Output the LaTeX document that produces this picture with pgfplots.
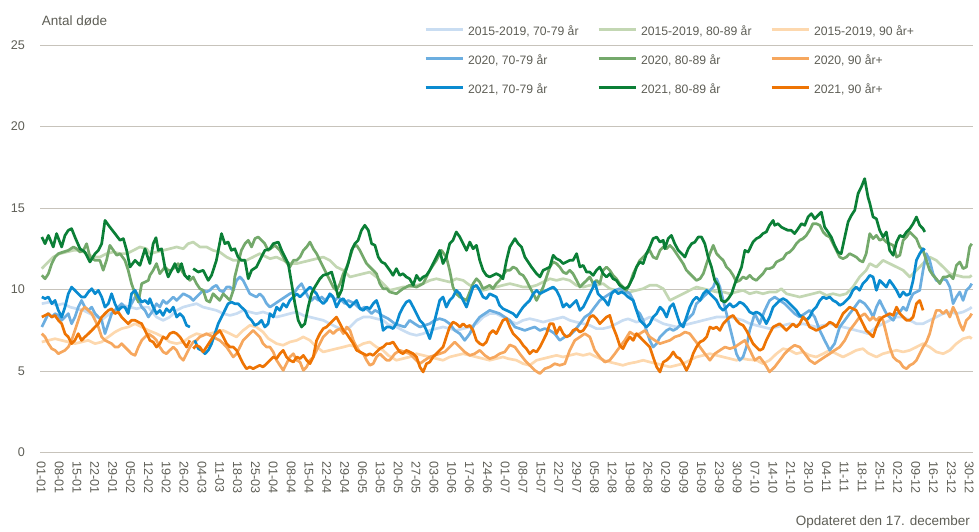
\documentclass[border=0pt]{standalone}
\usepackage{pgfplots}
\pgfplotsset{compat=1.18}
\usepackage{fontspec}
\setmainfont{Liberation Sans}
\definecolor{clb}{HTML}{C9DDF2}
\definecolor{clg}{HTML}{C3D7B3}
\definecolor{clo}{HTML}{FDD8AE}
\definecolor{cmb}{HTML}{6CAEE0}
\definecolor{cmg}{HTML}{74A96B}
\definecolor{cmo}{HTML}{F6A75E}
\definecolor{cdb}{HTML}{0A8BD0}
\definecolor{cdg}{HTML}{0B7F36}
\definecolor{cdo}{HTML}{EE7404}
\definecolor{gridc}{HTML}{C7C3BB}
\definecolor{labc}{HTML}{5E5E56}
\begin{document}
\begin{tikzpicture}[x=1pt,y=1pt]
\path[use as bounding box] (0,0) rectangle (979,531);
\begin{axis}[
  at={(40pt,78.5pt)}, anchor=south west,
  scale only axis, width=933pt, height=407.5pt,
  xmin=-0.5, xmax=365.5, ymin=0, ymax=25,
  ytick={0,5,10,15,20,25},
  xtick={0,7,...,364},
  xticklabels={01-01,08-01,15-01,22-01,29-01,05-02,12-02,19-02,26-02,04-03,11-03,18-03,25-03,01-04,08-04,15-04,22-04,29-04,06-05,13-05,20-05,27-05,03-06,10-06,17-06,24-06,01-07,08-07,15-07,22-07,29-07,05-08,12-08,19-08,26-08,02-09,09-09,16-09,23-09,30-09,07-10,14-10,21-10,28-10,04-11,11-11,18-11,25-11,02-12,09-12,16-12,23-12,30-12},
  ymajorgrids, grid style={draw=gridc, line width=0.9pt},
  axis line style={draw=none},
  major tick length=0pt,
  tick label style={font=\fontsize{12.6}{15}\selectfont, text=labc, inner sep=0pt},
  yticklabel shift=15pt, xticklabel shift=9pt,
  xticklabel style={rotate=-90, anchor=west},
  /pgf/number format/assume math mode=true,
  unbounded coords=jump,
  legend columns=3,
  legend cell align=left,
  legend style={at={(axis description cs:0.4116,1.0466)}, anchor=north west, draw=none, fill=none, inner sep=0pt, outer sep=0pt, font=\fontsize{12.2}{15}\selectfont, text=labc, nodes={inner sep=0pt, text height=9pt, text depth=3pt}, row sep=17pt, /tikz/every odd column/.append style={column sep=4pt}},
  legend image code/.code={\draw[#1, line width=3pt] (0pt,3pt) -- (37pt,3pt);},
  every axis plot/.append style={line width=2.7pt, line join=round},
]
\addplot[clb] coordinates {(0.2,9.13)(3.4,9.23)(6.0,9.03)(8.6,9.13)(11.3,8.92)(13.9,8.82)(16.5,8.72)(19.1,8.52)(21.7,8.31)(24.3,8.21)(26.9,8.52)(29.6,8.82)(32.2,9.03)(34.8,8.92)(37.4,8.82)(40.0,8.92)(42.0,8.92)(45.2,8.31)(47.8,8.11)(50.4,8.31)(53.1,8.72)(55.7,8.92)(58.3,9.03)(60.9,9.13)(63.5,8.92)(66.1,8.82)(68.7,8.72)(71.4,8.52)(74.0,8.41)(76.6,8.52)(79.2,8.72)(81.8,8.62)(84.4,8.52)(87.0,8.62)(89.0,8.52)(92.3,8.31)(94.9,8.41)(97.5,8.52)(100.2,8.62)(102.8,8.41)(105.4,8.31)(108.0,8.21)(110.6,8.11)(113.2,7.90)(115.8,7.70)(118.5,7.49)(121.1,7.70)(123.7,8.11)(126.3,8.31)(128.9,8.31)(131.5,8.21)(134.1,8.11)(136.1,7.85)(139.3,7.70)(141.9,7.49)(144.5,7.29)(147.2,7.19)(149.8,7.29)(152.4,7.49)(155.0,7.60)(157.6,7.70)(160.2,7.60)(162.8,7.49)(165.5,7.60)(168.1,7.70)(170.7,7.90)(173.3,8.31)(175.9,8.52)(178.5,8.52)(181.1,8.31)(183.2,8.11)(186.4,7.90)(189.0,8.11)(191.6,8.21)(194.3,8.11)(196.9,8.00)(199.5,8.11)(202.1,8.21)(204.7,8.31)(207.3,8.11)(209.9,8.00)(212.6,7.90)(215.2,7.80)(217.8,7.60)(220.4,7.60)(223.0,7.70)(225.6,7.90)(228.2,8.11)(230.2,8.20)(233.5,8.00)(236.1,8.11)(238.7,8.31)(241.4,8.11)(244.0,7.90)(246.6,7.80)(249.2,7.70)(251.8,7.80)(254.4,7.90)(257.0,8.00)(259.7,8.11)(262.3,8.21)(264.9,8.31)(267.5,8.31)(270.1,8.31)(272.7,8.21)(275.3,8.11)(277.3,7.95)(280.5,7.80)(283.1,7.70)(285.7,7.60)(288.4,7.70)(291.0,7.80)(293.6,7.90)(296.2,7.80)(298.8,7.90)(301.4,7.80)(304.0,7.70)(306.7,7.80)(309.3,7.90)(311.9,7.80)(314.5,7.70)(317.1,7.60)(319.7,7.49)(322.3,7.39)(324.3,7.29)(327.6,7.70)(330.2,7.90)(332.8,8.11)(335.5,8.31)(338.1,8.31)(340.7,8.11)(343.3,7.90)(345.9,7.90)(348.5,8.11)(351.1,8.31)(353.8,8.52)(356.4,8.62)(359.0,8.52)(361.6,8.62)(364.2,8.82)(365.0,8.92)};
\addlegendentry{\makebox[129pt][l]{2015-2019, 70-79 år}}
\addplot[clg] coordinates {(0.2,11.28)(2.1,11.59)(4.7,11.99)(7.3,12.20)(9.9,12.30)(12.6,12.40)(15.2,12.40)(17.8,12.20)(20.4,11.99)(23.0,11.99)(25.6,12.20)(28.3,12.30)(30.9,12.20)(33.5,12.20)(36.1,12.40)(38.7,12.61)(41.3,12.50)(42.6,12.20)(45.2,12.30)(47.8,12.40)(50.4,12.50)(53.1,12.61)(55.7,12.50)(57.6,12.81)(59.6,12.91)(62.2,12.61)(64.8,12.61)(67.4,12.40)(70.0,12.30)(72.7,11.99)(75.3,11.79)(77.9,11.79)(80.5,11.79)(83.1,11.99)(85.7,12.20)(88.4,11.99)(89.7,11.89)(92.3,11.99)(94.9,11.79)(97.5,11.59)(100.2,11.59)(102.8,11.69)(105.4,11.79)(108.0,11.89)(110.6,11.99)(113.2,11.79)(115.8,11.38)(118.5,11.18)(121.1,10.77)(123.7,10.87)(126.3,10.97)(128.9,11.07)(131.5,10.77)(134.1,10.36)(136.7,9.95)(139.3,10.05)(141.9,10.15)(144.5,10.15)(147.2,10.26)(149.8,10.36)(152.4,10.56)(155.0,10.66)(157.6,10.56)(160.2,10.46)(162.8,10.66)(165.5,10.56)(168.1,10.26)(170.7,10.15)(173.3,9.95)(175.9,10.05)(178.5,10.15)(181.1,10.26)(183.8,10.36)(186.4,10.26)(189.0,10.15)(191.6,10.15)(194.3,10.26)(196.9,10.46)(199.5,10.66)(202.1,10.56)(204.7,10.66)(207.3,10.56)(209.9,10.26)(212.6,10.15)(215.2,10.26)(217.8,10.26)(220.4,10.36)(223.0,10.05)(225.6,9.95)(228.2,9.85)(230.9,9.85)(233.5,9.95)(236.1,10.05)(238.7,10.26)(241.4,10.26)(244.0,10.05)(246.6,9.33)(249.2,9.54)(251.8,9.74)(254.4,9.95)(257.0,10.15)(259.7,10.05)(262.3,9.95)(264.9,9.85)(267.5,9.85)(270.1,9.74)(272.7,9.85)(275.3,9.95)(277.9,9.74)(280.5,9.85)(283.1,9.74)(285.7,9.85)(288.4,9.85)(290.3,10.05)(292.3,9.74)(294.9,9.64)(297.5,9.54)(300.1,9.64)(302.7,9.74)(305.4,9.85)(308.0,9.64)(310.6,9.74)(313.2,9.64)(315.8,9.74)(318.4,10.15)(321.0,10.77)(323.6,11.18)(325.0,11.59)(327.6,11.38)(330.2,11.79)(332.8,11.59)(335.5,11.38)(338.1,11.18)(340.7,10.77)(343.3,11.18)(345.9,11.59)(348.5,11.99)(351.1,11.79)(353.8,11.38)(356.4,10.97)(359.0,10.87)(361.6,10.77)(364.2,10.77)(365.0,10.87)};
\addlegendentry{\makebox[129pt][l]{2015-2019, 80-89 år}}
\addplot[clo] coordinates {(0.2,6.78)(2.8,6.88)(5.4,6.98)(8.0,6.88)(10.6,6.78)(13.2,6.68)(15.8,6.78)(18.4,6.88)(21.1,6.68)(23.7,6.78)(26.3,7.09)(28.9,7.39)(31.5,7.60)(34.1,7.70)(36.8,7.90)(39.4,7.70)(42.0,7.49)(45.2,7.29)(47.8,7.09)(50.4,6.78)(53.1,6.68)(55.7,6.78)(58.3,7.09)(60.9,7.29)(63.5,7.19)(66.1,7.29)(68.7,7.39)(71.4,7.49)(74.0,7.29)(76.6,7.09)(79.2,7.49)(81.8,7.80)(84.4,7.70)(87.0,7.39)(89.0,7.00)(92.3,6.68)(94.9,6.58)(97.5,6.78)(100.2,6.88)(102.8,7.09)(105.4,6.88)(108.0,6.47)(110.6,6.17)(113.2,6.27)(115.8,6.37)(118.5,6.47)(121.1,6.58)(123.7,6.47)(126.3,6.68)(128.9,6.78)(131.5,6.47)(134.1,6.27)(136.1,5.96)(139.3,5.66)(141.9,5.76)(144.5,5.86)(147.2,6.06)(149.8,5.96)(152.4,5.86)(155.0,5.76)(157.6,5.66)(160.2,5.86)(162.8,5.96)(165.5,6.06)(168.1,5.96)(170.7,5.86)(173.3,5.76)(175.9,5.66)(178.5,5.76)(181.1,5.86)(183.1,5.76)(186.4,5.66)(189.0,5.45)(191.6,5.35)(194.3,5.66)(196.9,5.76)(199.5,5.86)(202.1,5.96)(204.7,5.86)(207.3,5.96)(209.9,6.06)(212.6,5.96)(215.2,6.06)(217.8,5.86)(220.4,5.66)(223.0,5.55)(225.6,5.45)(228.2,5.35)(230.2,5.45)(233.5,5.55)(236.1,5.66)(238.7,5.55)(241.4,5.45)(244.0,5.35)(246.6,5.25)(249.2,5.35)(251.8,5.45)(254.4,5.66)(257.0,5.86)(259.7,5.96)(262.3,6.06)(264.9,5.96)(267.5,5.86)(270.1,5.76)(272.7,5.66)(275.3,5.76)(277.3,5.70)(280.5,5.66)(283.1,5.45)(285.7,5.66)(288.4,6.06)(291.0,6.37)(293.6,6.27)(296.2,6.06)(298.8,6.17)(301.4,5.96)(304.0,5.86)(306.7,6.06)(309.3,6.27)(311.9,6.06)(314.5,5.86)(317.1,6.06)(319.7,6.27)(322.3,6.37)(324.3,6.10)(327.6,5.86)(330.2,6.06)(332.8,6.17)(335.5,6.27)(338.1,6.17)(340.7,6.27)(343.3,6.47)(345.9,6.68)(348.5,6.47)(351.1,6.17)(353.8,6.06)(356.4,6.27)(359.0,6.68)(361.6,6.98)(364.2,7.09)(365.0,6.98)};
\addlegendentry{2015-2019, 90 år+}
\addplot[cmb] coordinates {(0.2,7.70)(1.5,8.11)(2.8,8.52)(4.1,8.31)(5.4,8.52)(6.7,8.41)(8.0,8.11)(9.3,8.31)(10.6,8.52)(11.9,7.90)(13.2,8.31)(14.5,8.92)(15.8,9.33)(17.1,8.92)(18.5,8.72)(19.8,8.92)(21.1,8.52)(22.4,8.31)(23.7,8.11)(25.0,7.29)(26.3,7.90)(27.6,8.52)(28.9,8.72)(30.2,8.92)(31.5,9.13)(32.8,8.92)(34.1,8.72)(35.4,9.13)(36.8,9.54)(38.1,9.33)(39.4,8.92)(40.7,8.72)(42.0,8.31)(43.9,8.72)(45.2,9.13)(46.5,8.92)(47.8,9.33)(49.1,9.13)(50.4,9.33)(51.8,9.54)(53.1,9.33)(54.4,9.54)(55.7,9.74)(57.0,9.64)(58.3,9.54)(59.6,9.33)(60.9,9.54)(62.2,9.74)(63.5,9.95)(64.8,9.85)(66.1,9.95)(67.4,10.15)(68.7,10.26)(70.0,9.95)(71.4,9.85)(72.7,10.15)(74.0,10.15)(75.3,9.95)(76.6,10.56)(77.9,10.77)(79.2,10.56)(80.5,10.15)(81.8,9.74)(83.1,9.64)(84.4,9.54)(85.7,9.74)(87.0,9.54)(88.4,9.13)(89.7,8.92)(91.7,9.13)(93.6,9.33)(95.6,9.54)(97.5,9.74)(99.5,9.85)(100.8,10.15)(102.1,10.36)(103.4,9.95)(104.7,9.54)(106.0,9.33)(107.3,9.54)(108.7,9.33)(110.0,9.54)(111.3,9.33)(112.6,9.54)(113.9,9.64)(115.2,9.33)(116.5,9.54)(117.8,9.33)(119.1,9.13)(120.4,9.33)(121.7,9.23)(123.0,9.13)(124.3,8.92)(125.6,8.82)(126.9,8.92)(128.3,8.72)(129.6,8.52)(130.9,8.72)(132.2,8.62)(133.5,8.41)(134.8,8.31)(136.1,8.21)(138.7,7.90)(140.6,7.80)(142.6,7.70)(144.5,8.11)(146.5,7.90)(148.5,7.70)(150.4,7.80)(152.4,7.90)(154.3,8.11)(156.3,8.21)(158.3,8.11)(160.2,7.90)(162.2,7.49)(164.2,7.29)(166.1,6.88)(168.1,7.29)(170.0,7.90)(172.0,8.31)(174.0,8.52)(175.9,8.72)(177.9,8.62)(179.8,8.52)(181.8,8.31)(183.8,8.11)(185.8,7.70)(187.7,7.60)(189.7,7.49)(191.6,7.60)(193.6,7.70)(195.6,7.49)(197.5,7.60)(199.5,7.49)(201.4,7.29)(203.4,6.88)(205.4,7.09)(207.3,7.19)(209.3,7.49)(211.3,7.90)(213.2,8.31)(215.2,8.52)(217.1,8.92)(219.1,9.33)(221.1,9.54)(223.0,9.74)(225.0,9.95)(226.9,10.05)(228.9,9.95)(230.9,9.74)(232.2,9.33)(233.5,8.72)(234.8,8.52)(236.1,8.11)(237.4,7.49)(238.7,6.88)(240.0,6.47)(241.4,6.68)(242.7,7.09)(244.0,7.29)(245.3,7.49)(246.6,7.60)(247.9,7.49)(249.2,7.60)(250.5,7.80)(251.8,7.90)(253.1,8.11)(254.4,8.31)(255.7,8.52)(257.0,9.13)(258.4,9.33)(259.7,9.54)(261.0,9.74)(262.3,9.95)(263.6,10.15)(264.9,10.66)(266.2,10.15)(267.5,9.33)(268.8,8.52)(270.1,7.70)(271.4,6.88)(272.7,6.06)(274.0,5.66)(275.3,5.86)(276.6,6.47)(277.9,7.50)(279.9,8.52)(281.8,7.90)(283.8,8.72)(285.7,9.33)(287.7,9.54)(289.7,9.33)(291.6,9.13)(293.6,8.82)(295.5,8.52)(297.5,8.31)(299.5,8.52)(301.4,8.72)(303.4,8.31)(305.4,7.49)(307.3,6.88)(309.3,6.27)(311.2,6.68)(313.2,7.70)(315.2,8.11)(317.1,8.52)(319.1,8.92)(321.0,9.33)(323.0,9.13)(325.0,8.72)(326.3,8.31)(327.6,8.92)(328.9,9.33)(330.2,8.92)(331.5,8.52)(332.8,8.31)(334.2,8.11)(335.5,8.52)(336.8,8.62)(338.1,8.92)(339.4,8.72)(340.7,9.33)(342.0,9.74)(343.3,9.85)(344.6,9.95)(345.9,11.18)(347.2,12.20)(348.5,11.79)(349.8,10.97)(351.1,10.56)(352.5,10.46)(353.8,10.66)(355.1,10.56)(356.4,10.15)(357.7,9.13)(359.0,9.54)(360.3,9.85)(361.6,9.33)(362.9,9.95)(364.2,10.15)(365.0,10.36)};
\addlegendentry{\makebox[129pt][l]{2020, 70-79 år}}
\addplot[cmg] coordinates {(0.2,10.87)(1.5,10.66)(2.8,10.97)(4.1,11.59)(5.4,11.99)(6.7,12.20)(8.6,12.30)(10.6,12.40)(12.6,12.61)(13.9,12.50)(15.2,12.30)(16.5,12.40)(17.8,12.81)(19.1,11.99)(21.1,11.79)(23.0,11.79)(24.3,11.18)(25.6,11.79)(26.9,12.71)(28.3,12.40)(29.6,12.10)(30.9,12.20)(32.8,11.79)(34.1,11.18)(35.4,10.36)(36.8,9.74)(38.1,9.23)(39.4,10.36)(40.7,10.46)(42.0,10.56)(42.6,10.87)(43.9,11.18)(45.2,11.59)(46.5,10.97)(48.5,11.38)(49.8,11.18)(51.1,11.18)(52.4,11.38)(53.7,11.59)(55.0,11.18)(56.3,10.87)(58.3,10.56)(59.6,10.77)(60.9,10.36)(62.2,10.05)(63.5,9.95)(64.8,9.33)(66.1,9.23)(67.4,9.74)(68.7,9.54)(70.0,9.33)(71.4,9.74)(72.7,9.54)(74.0,9.33)(75.3,9.95)(75.9,10.77)(77.2,11.59)(78.5,12.40)(79.9,12.81)(81.2,13.02)(82.5,12.61)(83.8,13.12)(85.1,13.22)(86.4,13.02)(87.7,12.81)(89.0,12.40)(91.7,12.71)(93.6,12.40)(95.6,11.79)(97.5,11.38)(98.9,11.79)(100.2,11.79)(101.5,11.99)(102.8,12.40)(104.1,12.61)(105.4,12.91)(106.7,12.50)(108.0,12.20)(109.3,11.79)(110.6,11.38)(111.9,10.97)(113.2,10.56)(114.5,10.15)(115.8,9.95)(117.2,10.36)(118.5,10.97)(119.8,11.38)(121.1,11.99)(122.4,12.61)(123.7,12.71)(125.0,12.40)(126.3,11.99)(127.6,11.59)(128.9,11.38)(130.2,11.18)(131.5,10.97)(132.8,10.36)(134.1,10.05)(135.5,10.05)(136.7,9.85)(139.3,9.74)(141.9,10.05)(144.5,10.26)(147.2,10.15)(149.8,10.36)(152.4,11.18)(155.0,11.79)(157.0,12.40)(158.9,11.99)(160.2,11.18)(161.5,10.15)(162.8,9.74)(164.2,9.54)(165.5,9.44)(166.8,9.33)(168.1,9.85)(169.4,10.36)(170.7,10.66)(172.0,10.46)(173.3,10.05)(174.6,10.15)(175.9,10.26)(177.2,10.05)(178.5,10.36)(179.8,10.56)(181.1,10.87)(182.5,11.18)(183.8,11.18)(185.1,11.38)(186.4,11.28)(187.7,10.97)(189.0,10.87)(190.3,10.56)(191.6,10.15)(193.0,9.74)(194.3,9.33)(195.6,9.74)(196.9,10.15)(198.2,10.77)(199.5,11.38)(200.8,11.69)(202.1,11.59)(203.4,11.38)(204.7,11.07)(206.0,10.97)(207.3,11.18)(208.6,10.97)(210.0,10.56)(211.3,10.15)(212.6,10.36)(213.9,10.56)(215.2,10.77)(216.5,10.36)(217.8,10.56)(219.1,10.36)(220.4,11.18)(221.7,11.38)(223.0,11.18)(224.3,10.87)(225.6,10.66)(226.9,10.36)(228.2,10.15)(229.5,9.95)(230.9,10.36)(232.2,10.97)(233.5,11.38)(234.8,11.79)(236.1,11.99)(237.4,12.20)(238.7,12.40)(240.0,11.99)(241.4,11.89)(242.7,12.40)(244.0,12.61)(245.3,12.50)(246.6,12.71)(247.9,12.50)(249.2,12.20)(250.5,11.89)(251.8,11.59)(253.1,11.18)(254.4,10.97)(255.7,10.77)(257.0,10.56)(258.4,10.66)(259.7,10.97)(261.0,11.59)(262.3,12.20)(263.6,12.71)(264.9,12.20)(266.2,11.99)(267.5,11.79)(268.8,11.38)(270.1,11.18)(271.4,10.87)(272.7,10.46)(274.0,10.56)(275.3,10.77)(276.6,10.66)(277.9,10.87)(279.2,10.66)(280.5,10.56)(281.8,10.77)(283.1,10.97)(284.4,11.28)(285.7,11.28)(287.1,11.38)(288.4,11.69)(289.7,11.79)(291.0,11.89)(292.3,12.20)(293.6,12.30)(294.9,12.50)(296.2,12.81)(297.5,13.02)(298.8,13.12)(300.1,13.32)(301.4,13.63)(302.7,14.04)(304.0,14.04)(305.4,13.94)(306.7,13.53)(308.0,13.32)(309.3,13.22)(310.6,12.81)(311.9,12.40)(313.2,11.99)(314.5,11.89)(315.8,11.99)(317.1,12.20)(318.4,12.10)(319.7,11.99)(321.0,11.79)(322.3,11.69)(323.6,12.20)(325.0,13.43)(326.3,13.12)(327.6,13.32)(328.9,13.02)(330.2,13.12)(331.5,12.91)(332.8,12.81)(334.2,12.71)(335.5,11.99)(336.8,12.10)(338.1,13.02)(339.4,13.22)(340.7,13.53)(342.0,13.32)(343.3,13.12)(344.6,12.61)(345.9,12.40)(347.2,11.79)(348.5,11.18)(349.8,10.87)(351.1,10.66)(352.5,10.36)(353.8,10.77)(355.1,10.77)(356.4,10.87)(357.7,10.66)(359.0,11.48)(360.3,11.69)(361.6,11.28)(362.9,11.38)(364.2,12.61)(365.0,12.81)};
\addlegendentry{\makebox[129pt][l]{2020, 80-89 år}}
\addplot[cmo] coordinates {(0.2,7.29)(1.5,7.09)(2.8,6.68)(4.1,6.37)(5.4,6.27)(6.7,6.06)(8.0,6.17)(9.3,6.27)(10.6,6.47)(11.9,6.88)(13.2,7.49)(14.5,8.11)(15.8,8.72)(17.1,8.92)(18.5,8.72)(19.8,8.52)(21.1,8.11)(22.4,7.70)(23.7,7.09)(25.0,6.88)(26.3,6.78)(27.6,6.68)(28.9,6.47)(30.2,6.47)(31.5,6.68)(32.8,6.47)(34.1,6.27)(35.4,6.06)(36.8,5.96)(38.1,6.47)(39.4,6.88)(40.7,7.09)(42.0,7.29)(43.9,7.09)(45.2,6.88)(46.5,6.47)(47.8,6.17)(49.1,6.06)(50.4,6.27)(51.8,6.47)(53.1,6.27)(54.4,5.86)(55.7,5.66)(57.0,6.06)(58.3,6.47)(59.6,6.78)(60.9,6.88)(62.2,7.09)(63.5,7.19)(64.8,7.29)(66.1,7.19)(67.4,7.09)(68.7,6.98)(70.0,6.88)(71.4,6.68)(72.7,6.47)(74.0,6.17)(75.3,5.86)(76.6,6.06)(77.9,6.47)(79.2,6.88)(80.5,7.09)(81.8,7.29)(83.1,7.49)(84.4,7.29)(85.7,7.09)(87.0,6.68)(88.4,6.47)(89.7,6.47)(91.0,6.17)(92.3,5.66)(93.6,5.35)(94.9,5.04)(96.2,5.45)(97.5,5.86)(98.9,6.06)(100.2,5.66)(101.5,5.55)(102.8,5.04)(104.1,5.25)(105.4,5.66)(106.7,5.86)(108.0,6.27)(109.3,6.68)(110.6,7.09)(111.9,7.29)(113.2,7.49)(114.5,7.29)(115.8,7.49)(117.2,7.60)(118.5,7.29)(119.8,7.70)(121.1,7.49)(122.4,6.88)(123.7,6.47)(125.0,6.17)(126.3,6.06)(127.6,5.66)(128.9,5.35)(130.2,5.45)(131.5,5.86)(132.8,6.06)(134.1,5.86)(135.5,5.66)(136.7,5.66)(138.7,6.06)(140.6,6.27)(142.6,6.17)(144.5,6.06)(146.5,5.76)(148.5,5.45)(150.4,5.66)(152.4,5.86)(154.3,5.96)(156.3,6.06)(158.3,6.17)(160.2,6.47)(162.2,6.78)(164.2,6.47)(166.1,6.17)(168.1,5.96)(170.0,6.06)(172.0,6.27)(174.0,5.96)(175.9,5.76)(177.9,5.86)(179.8,6.06)(181.8,6.17)(183.8,6.60)(185.8,6.47)(187.7,6.06)(189.7,5.66)(191.6,5.35)(193.6,5.04)(195.6,4.84)(197.5,5.14)(199.5,5.25)(201.4,5.45)(203.4,5.35)(205.4,5.45)(207.3,6.27)(209.3,6.88)(211.3,7.09)(213.2,7.29)(215.2,7.09)(217.1,6.27)(219.1,5.86)(221.1,5.55)(223.0,5.66)(225.0,6.06)(226.9,6.47)(228.9,6.88)(230.9,7.39)(232.9,7.19)(234.8,7.29)(236.8,7.49)(238.7,7.09)(240.7,6.88)(242.7,6.68)(244.6,6.78)(246.6,6.88)(248.5,7.09)(250.5,7.19)(252.5,7.39)(254.4,7.29)(256.4,6.88)(258.4,6.47)(260.3,6.06)(262.3,5.66)(264.2,6.06)(266.2,6.27)(268.2,6.47)(270.1,6.37)(272.1,6.47)(274.0,6.68)(276.0,6.88)(277.9,6.30)(279.9,5.66)(281.8,5.86)(283.8,5.45)(285.7,4.94)(287.7,5.25)(289.7,5.66)(291.6,6.06)(293.6,6.37)(295.5,6.58)(297.5,6.47)(299.5,6.06)(301.4,5.66)(303.4,5.45)(305.4,5.66)(307.3,5.86)(309.3,6.06)(311.2,6.27)(313.2,6.47)(315.2,6.88)(317.1,7.49)(319.1,7.90)(321.0,8.31)(323.0,8.52)(325.0,8.11)(326.3,8.31)(327.6,8.11)(328.9,8.31)(330.2,8.11)(331.5,7.29)(332.8,6.47)(334.2,5.86)(335.5,5.66)(336.8,5.55)(338.1,5.25)(339.4,5.14)(340.7,5.35)(342.0,5.45)(343.3,5.66)(344.6,6.06)(345.9,6.47)(347.2,6.78)(348.5,7.29)(349.8,8.11)(351.1,8.72)(352.5,8.72)(353.8,8.52)(355.1,8.72)(356.4,8.31)(357.7,8.92)(359.0,8.52)(360.3,7.90)(361.6,7.49)(362.9,8.11)(364.2,8.31)(365.0,8.52)};
\addlegendentry{2020, 90 år+}
\addplot[cdb] coordinates {(0.2,9.54)(1.5,9.44)(2.8,9.54)(4.1,9.13)(5.4,9.33)(6.7,8.72)(8.0,8.31)(9.3,8.92)(10.6,9.74)(11.9,10.15)(13.2,9.95)(14.5,9.74)(15.8,9.54)(17.1,9.54)(18.5,9.85)(19.8,10.05)(21.1,9.74)(22.4,9.95)(23.7,9.54)(25.0,8.92)(26.3,9.13)(27.6,9.74)(28.9,9.13)(30.2,8.72)(31.5,8.92)(32.8,8.92)(34.1,8.52)(35.4,9.74)(36.8,9.95)(38.1,9.54)(39.4,9.23)(40.7,9.33)(42.0,9.13)(42.6,9.44)(43.9,8.92)(45.2,8.52)(46.5,8.72)(47.8,8.41)(49.1,8.82)(50.4,8.62)(51.8,8.92)(53.1,8.31)(54.4,8.52)(55.7,8.31)(57.0,7.80)(58.3,7.70)(59,nan)(60.2,6.88)(61.6,6.37)(62.9,6.27)(64.2,6.06)(65.5,6.27)(66.8,6.68)(68.1,7.29)(69.4,7.90)(70.7,8.31)(72.0,8.72)(73.3,9.13)(74.6,9.23)(75.9,9.13)(77.2,9.13)(78.5,8.92)(79.9,8.72)(81.2,8.31)(82.5,8.11)(83.8,7.80)(85.1,7.90)(86.4,8.11)(87.7,7.70)(89.0,7.90)(89.7,8.52)(91.0,8.31)(92.3,8.92)(93.6,8.72)(94.9,9.13)(96.2,8.92)(97.5,9.33)(98.9,9.54)(100.2,9.74)(101.5,9.54)(102.8,9.74)(104.1,9.95)(105.4,10.15)(106.7,9.95)(108.0,9.74)(109.3,9.33)(110.6,9.13)(111.9,9.33)(113.2,9.74)(114.5,9.54)(115.8,8.92)(117.2,9.33)(118.5,9.44)(119.8,9.13)(121.1,8.92)(122.4,9.13)(123.7,9.33)(125.0,8.82)(126.3,8.72)(127.6,8.92)(128.9,8.82)(130.2,9.13)(131.5,9.33)(132.8,8.72)(134.1,7.49)(135.5,7.70)(136.7,7.70)(138.0,7.60)(139.3,7.90)(140.6,8.52)(141.9,8.92)(143.2,9.23)(144.5,9.33)(145.9,8.92)(147.2,8.52)(148.5,8.11)(149.8,7.90)(151.1,7.49)(152.4,6.98)(153.7,7.70)(155.0,8.52)(156.3,9.33)(157.6,9.54)(158.9,8.92)(160.2,9.33)(161.5,9.54)(162.8,9.95)(164.2,9.74)(165.5,9.33)(166.8,8.92)(168.1,9.54)(169.4,10.15)(170.7,10.26)(172.0,9.95)(173.3,9.54)(174.6,9.44)(175.9,9.74)(177.2,9.64)(178.5,9.54)(179.8,9.03)(181.1,8.82)(182.5,8.72)(183.8,8.62)(185.1,8.52)(186.4,8.31)(187.7,8.62)(189.0,8.92)(190.3,9.13)(191.6,9.33)(193.0,9.74)(194.3,9.95)(195.6,9.74)(196.9,9.85)(198.2,9.95)(199.5,10.05)(200.8,10.15)(202.1,9.95)(203.4,9.54)(204.7,8.92)(206.0,9.13)(207.3,8.92)(208.6,9.13)(209.9,9.33)(211.3,8.72)(212.6,8.92)(213.9,9.33)(215.2,9.74)(216.5,10.15)(217.1,10.46)(218.4,9.74)(219.7,9.54)(221.1,9.33)(222.4,9.03)(223.7,9.74)(225.0,9.95)(226.3,9.74)(227.6,9.85)(228.9,9.74)(230.2,9.54)(232.2,9.33)(233.5,8.72)(234.8,8.11)(236.1,7.90)(237.4,7.70)(238.7,7.90)(240.0,8.31)(241.4,8.52)(242.7,8.92)(244.0,8.72)(245.3,8.31)(246.6,8.92)(247.9,9.13)(249.2,8.52)(250.5,7.90)(251.8,7.70)(253.1,8.31)(254.4,8.92)(255.7,9.33)(257.0,9.54)(258.4,9.33)(259.7,9.74)(261.0,9.95)(262.3,9.74)(263.6,9.54)(264.9,9.33)(266.2,8.92)(267.5,8.72)(268.8,8.92)(270.1,9.13)(271.4,8.92)(272.7,9.03)(274.0,9.23)(275.3,9.13)(276.6,8.92)(277.9,8.62)(279.2,8.52)(280.5,8.62)(281.8,8.52)(283.1,8.31)(284.4,7.90)(285.7,8.31)(287.1,8.92)(288.4,9.13)(289.7,9.33)(291.0,9.44)(292.3,9.33)(293.6,9.13)(294.9,8.92)(296.2,8.72)(297.5,8.41)(298.8,8.31)(300.1,8.11)(301.4,8.31)(302.7,8.72)(304.0,8.92)(305.4,9.33)(306.7,9.54)(308.0,9.44)(309.3,9.54)(310.6,9.33)(311.9,9.23)(313.2,9.03)(314.5,9.13)(315.8,9.33)(317.1,9.54)(318.4,9.95)(319.7,10.15)(321.0,9.95)(322.3,10.36)(323.6,10.56)(325.0,10.87)(326.3,10.77)(327.6,9.95)(328.9,10.56)(330.2,10.36)(331.5,10.15)(332.8,10.56)(334.2,10.26)(335.5,9.95)(336.8,9.54)(338.1,9.85)(339.4,9.64)(340.7,9.74)(342.0,10.56)(343.3,11.79)(344.6,12.20)(345.9,12.50)(346.6,12.40)};
\addlegendentry{\makebox[129pt][l]{2021, 70-79 år}}
\addplot[cdg] coordinates {(0.2,13.22)(1.5,12.81)(2.8,13.32)(4.7,12.61)(6.0,13.43)(8.0,12.61)(9.3,13.32)(10.6,13.63)(11.9,13.73)(13.2,13.22)(15.2,12.50)(17.1,12.30)(19.1,11.69)(21.1,12.20)(22.4,12.40)(23.7,12.81)(25.0,14.24)(26.9,13.83)(28.9,13.43)(30.9,13.02)(32.2,13.12)(33.5,12.40)(34.8,11.38)(36.8,11.79)(38.7,11.48)(40.7,12.50)(42.6,11.59)(43.9,12.81)(45.0,13.18)(45.9,12.40)(47.2,12.50)(48.5,11.38)(49.8,10.77)(51.1,11.18)(52.4,11.59)(53.7,11.07)(55.0,11.59)(56.3,10.87)(57.6,10.66)(58.3,10.87)(59,nan)(59.6,11.28)(61.6,11.07)(63.5,11.18)(65.5,10.56)(66.8,10.87)(68.7,11.79)(70.7,13.43)(72.0,12.81)(73.3,12.91)(74.6,12.40)(75.9,12.50)(77.2,11.99)(78.5,11.79)(79.9,11.79)(81.2,10.66)(82.5,11.18)(84.4,11.38)(85.7,11.79)(87.7,12.40)(89.7,12.50)(91.0,12.81)(93.0,12.91)(94.3,12.40)(95.6,11.99)(96.9,11.59)(98.2,10.36)(99.5,9.13)(100.8,8.11)(102.1,7.70)(103.4,7.90)(104.7,8.92)(106.0,9.74)(107.3,10.15)(109.3,10.66)(110.6,10.87)(112.6,10.97)(113.9,11.07)(115.2,10.36)(116.5,9.54)(117.8,9.95)(119.1,10.97)(120.4,11.59)(121.7,12.40)(123.0,12.81)(124.3,13.02)(125.6,13.63)(126.9,13.94)(128.3,13.63)(129.6,12.81)(130.9,12.71)(132.2,11.99)(133.5,11.69)(134.8,11.59)(136.7,11.18)(138.0,10.87)(139.3,11.28)(140.6,10.87)(141.9,10.97)(143.2,10.77)(144.5,10.66)(145.9,10.26)(147.2,10.87)(148.5,10.56)(149.8,10.77)(151.1,10.87)(152.4,11.18)(153.7,11.59)(155.0,11.99)(156.3,12.40)(157.6,11.59)(158.9,11.99)(160.2,12.81)(161.5,13.02)(162.8,13.53)(164.2,13.22)(165.5,12.81)(166.8,12.40)(168.1,12.91)(169.4,12.50)(170.7,12.71)(172.0,11.79)(173.3,11.18)(174.6,10.87)(175.9,10.77)(177.2,10.87)(178.5,10.97)(179.8,10.87)(181.1,10.66)(182.5,11.79)(183.8,12.61)(185.8,13.12)(187.1,12.81)(188.4,12.61)(189.7,11.99)(191.0,11.69)(192.3,11.38)(194.3,10.97)(195.6,10.77)(196.9,11.18)(198.2,11.28)(199.5,11.38)(200.8,12.10)(202.1,11.89)(203.4,11.79)(204.7,11.59)(206.0,11.69)(207.3,11.79)(208.6,11.79)(210.0,12.20)(211.3,11.38)(212.6,11.48)(213.9,11.07)(215.2,11.07)(216.5,10.87)(217.8,11.18)(219.1,11.38)(220.4,10.97)(221.7,10.77)(223.0,10.97)(224.3,10.66)(225.6,10.56)(226.9,10.26)(228.9,10.05)(230.2,10.15)(232.2,10.77)(233.5,11.38)(234.8,11.69)(236.1,11.59)(237.4,12.20)(238.7,12.61)(240.0,13.12)(241.4,13.22)(242.7,12.91)(244.0,13.02)(244.6,12.50)(245.9,13.12)(247.2,13.32)(248.5,12.81)(249.9,12.40)(251.2,12.20)(252.5,11.99)(253.8,12.50)(255.1,12.81)(256.4,12.91)(257.7,13.22)(259.0,13.22)(260.3,12.81)(261.6,11.99)(262.9,11.38)(264.2,10.56)(265.5,10.26)(266.8,9.33)(268.2,9.23)(269.5,9.44)(270.8,9.74)(272.1,10.36)(273.4,10.87)(274.7,11.38)(276.0,12.40)(277.3,12.30)(279.2,12.91)(280.5,13.12)(281.8,13.22)(283.1,13.43)(284.4,13.53)(285.7,13.94)(287.1,14.24)(287.7,13.94)(289.0,14.04)(290.3,13.83)(291.6,13.73)(292.9,13.63)(294.2,13.63)(295.5,13.43)(296.9,13.73)(298.2,14.04)(299.5,13.94)(300.8,14.45)(302.1,14.65)(303.4,14.34)(304.7,14.55)(306.0,14.75)(307.3,13.83)(308.6,13.53)(309.9,13.22)(311.2,12.71)(312.5,12.30)(313.8,12.20)(315.2,13.22)(316.5,14.14)(317.8,14.55)(319.1,14.86)(320.4,15.88)(321.7,16.29)(323.0,16.80)(324.3,15.67)(325.0,15.30)(326.3,14.45)(327.6,14.34)(328.9,13.63)(330.2,13.22)(331.5,13.53)(332.8,12.40)(334.2,12.10)(335.5,12.91)(336.8,13.32)(338.1,13.22)(339.4,13.53)(340.7,13.73)(342.0,14.04)(343.3,14.45)(344.6,13.94)(345.9,13.73)(346.6,13.53)};
\addlegendentry{\makebox[129pt][l]{2021, 80-89 år}}
\addplot[cdo] coordinates {(0.2,8.31)(1.5,8.41)(2.8,8.52)(4.1,8.31)(5.4,8.41)(6.7,8.11)(8.0,7.90)(9.3,7.29)(10.6,7.09)(11.9,6.68)(13.2,6.88)(14.5,7.29)(15.8,6.88)(17.1,7.09)(18.5,7.29)(19.8,7.49)(21.1,7.70)(22.4,7.90)(23.7,8.31)(25.0,8.52)(26.3,8.72)(27.6,8.82)(28.9,8.52)(30.2,8.62)(31.5,8.31)(32.8,8.11)(34.1,7.90)(35.4,8.11)(36.8,8.11)(38.1,8.00)(39.4,7.90)(40.7,7.49)(42.0,7.09)(42.6,6.88)(43.9,6.78)(45.2,6.47)(46.5,6.68)(47.8,7.09)(49.1,6.98)(50.4,7.29)(51.8,7.39)(53.1,7.29)(54.4,7.09)(55.7,6.78)(57.0,6.47)(58.3,6.88)(59,nan)(59.6,6.37)(60.9,6.58)(62.2,6.47)(63.5,6.17)(64.8,6.47)(66.1,6.78)(67.4,7.09)(68.7,7.29)(70.0,7.49)(71.4,7.09)(72.7,6.68)(74.0,6.47)(75.3,6.47)(76.6,6.27)(77.9,5.86)(79.2,5.45)(80.5,5.14)(81.8,5.25)(83.1,5.14)(84.4,5.25)(85.7,5.35)(87.0,5.25)(88.4,5.45)(89.7,5.66)(91.0,5.86)(92.3,5.76)(93.6,6.06)(94.9,6.27)(96.2,5.86)(97.5,5.66)(98.9,5.55)(100.2,5.86)(101.5,5.76)(102.8,5.96)(104.1,5.66)(105.4,5.45)(106.7,5.86)(108.0,6.88)(109.3,7.29)(110.6,7.60)(111.9,7.70)(113.2,7.90)(114.5,8.11)(115.8,8.31)(117.2,7.90)(118.5,7.49)(119.8,7.29)(121.1,6.98)(122.4,6.68)(123.7,6.27)(125.0,6.17)(126.3,6.06)(127.6,5.96)(128.9,6.06)(130.2,5.96)(131.5,6.17)(132.8,6.37)(134.1,6.47)(135.5,6.68)(136.7,6.68)(138.0,6.78)(139.3,6.47)(140.6,6.17)(141.9,6.06)(143.2,6.27)(144.5,6.17)(145.9,6.06)(147.2,5.86)(148.5,5.25)(149.8,4.94)(151.1,5.45)(152.4,5.55)(153.7,5.86)(155.0,6.06)(156.3,6.27)(157.6,6.47)(158.9,7.09)(160.2,7.70)(161.5,8.00)(162.8,7.90)(164.2,7.70)(165.5,7.90)(166.8,7.70)(168.1,7.80)(169.4,7.49)(170.7,6.88)(172.0,6.68)(173.3,6.58)(174.6,6.78)(175.9,7.29)(177.2,7.49)(178.5,7.29)(179.8,7.70)(181.1,8.11)(182.5,8.21)(183.8,7.70)(185.1,7.29)(186.4,7.09)(187.7,6.88)(189.0,6.58)(190.3,6.37)(191.6,6.06)(193.0,6.27)(194.3,6.17)(195.6,6.47)(196.9,6.88)(198.2,7.29)(199.5,7.90)(200.8,7.90)(202.1,7.29)(203.4,7.70)(204.7,7.29)(206.0,7.09)(207.3,7.19)(208.6,7.49)(209.9,7.60)(211.3,7.39)(212.6,7.49)(213.9,7.80)(215.2,8.31)(216.5,8.41)(217.8,8.21)(219.1,7.90)(220.4,8.11)(221.7,8.31)(223.0,8.41)(224.3,7.70)(225.6,7.19)(226.9,6.58)(228.2,6.37)(229.5,6.78)(230.9,7.09)(232.2,6.88)(233.5,7.29)(234.8,7.09)(236.1,6.88)(237.4,6.68)(238.7,6.47)(240.0,5.86)(241.4,5.25)(242.7,4.94)(244.0,5.55)(245.3,5.66)(246.6,5.86)(247.9,6.17)(249.2,5.86)(250.5,5.76)(251.8,5.45)(253.1,5.04)(254.4,5.45)(255.7,6.06)(257.0,6.47)(258.4,6.78)(259.7,6.88)(261.0,7.09)(262.3,7.70)(263.6,7.60)(264.9,7.70)(266.2,7.49)(267.5,7.90)(268.8,8.11)(270.1,8.31)(271.4,8.41)(272.7,8.11)(274.0,7.90)(275.3,7.80)(276.6,7.49)(277.9,7.09)(279.2,6.68)(280.5,6.47)(281.8,6.27)(283.1,6.37)(284.4,6.88)(285.7,7.29)(287.1,7.70)(288.4,7.80)(289.7,7.90)(291.0,7.70)(292.3,7.49)(293.6,7.70)(294.9,7.90)(296.2,7.70)(297.5,7.90)(298.8,8.31)(300.1,8.11)(301.4,7.70)(302.7,7.60)(304.0,7.49)(305.4,7.60)(306.7,7.70)(308.0,7.80)(309.3,8.00)(310.6,7.90)(311.9,7.70)(313.2,8.11)(314.5,8.52)(315.8,8.72)(317.1,8.92)(318.4,8.82)(319.7,8.72)(321.0,8.31)(322.3,7.90)(323.6,7.49)(325.0,7.29)(326.3,7.09)(327.6,7.70)(328.9,8.11)(330.2,8.31)(331.5,8.41)(332.8,8.52)(334.2,8.41)(335.5,8.92)(336.8,8.52)(338.1,8.31)(339.4,8.11)(340.7,8.11)(342.0,8.31)(343.3,9.13)(344.6,9.33)(345.9,8.72)};
\addlegendentry{2021, 90 år+}
\end{axis}
\node[anchor=base west, inner sep=0pt, text=labc, font=\fontsize{13.5}{16}\selectfont] at (41.7,505) {Antal døde};
\node[anchor=base east, inner sep=0pt, text=labc, font=\fontsize{13.5}{16}\selectfont] at (970,6) {Opdateret den 17. december};
\end{tikzpicture}
\end{document}
